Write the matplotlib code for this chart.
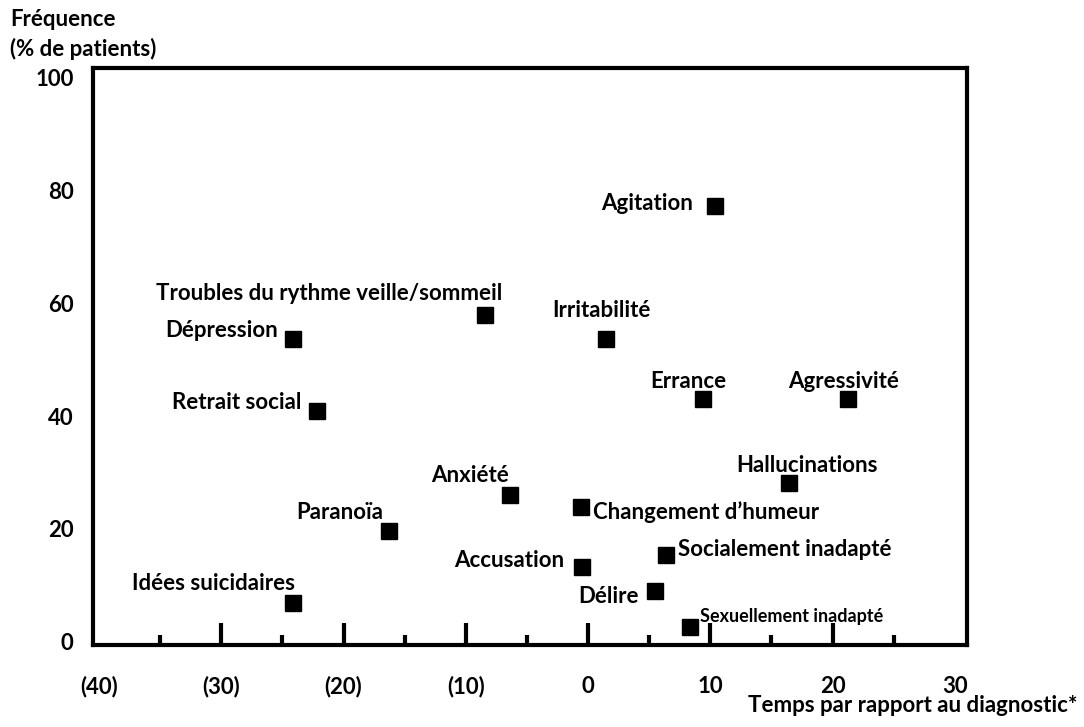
import numpy as np
import matplotlib
matplotlib.use("Agg")
import matplotlib.pyplot as plt
from matplotlib.transforms import blended_transform_factory

plt.rcParams['font.family'] = ['Lato', 'DejaVu Sans']
plt.rcParams['font.weight'] = 'bold'

# symptoms : time vs diagnosis (months) / frequency (% patients)
symptoms = ["Agitation", "Troubles du rythme veille/sommeil", "Dépression",
            "Irritabilité", "Errance", "Agressivité", "Retrait social",
            "Hallucinations", "Anxiété", "Changement d\u2019humeur", "Paranoïa",
            "Socialement inadapté", "Accusation", "Délire",
            "Idées suicidaires", "Sexuellement inadapté"]
temps = [10.4, -8.4, -24.1, 1.5, 9.4, 21.3, -22.2, 16.4, -6.4, -0.6, -16.3,
         6.4, -0.5, 5.5, -24.1, 8.3]
frequence = [77.3, 57.9, 53.7, 53.7, 43.0, 43.0, 40.9, 28.1, 26.0, 23.9, 19.6,
             15.3, 13.2, 9.0, 6.8, 2.6]

xticks = [-40, -30, -20, -10, 0, 10, 20, 30]
xticklabels = ["(40)", "(30)", "(20)", "(10)", "0", "10", "20", "30"]
yticks = [0, 20, 40, 60, 80, 100]

# label placement (offset in pixels, alignment)
lab_pos = {
    "Agitation": (-22, 2, 'right'),
    "Troubles du rythme veille/sommeil": (-156, 22, 'center'),
    "Dépression": (-15, 8, 'right'),
    "Irritabilité": (-5, 28, 'center'),
    "Errance": (-15, 18, 'center'),
    "Agressivité": (-5, 18, 'center'),
    "Retrait social": (-15, 8, 'right'),
    "Hallucinations": (18, 18, 'center'),
    "Anxiété": (-40, 19, 'center'),
    "Changement d\u2019humeur": (12, -5, 'left'),
    "Paranoïa": (-49, 19, 'center'),
    "Socialement inadapté": (12, 6, 'left'),
    "Accusation": (-18, 7, 'right'),
    "Délire": (-17, -6, 'right'),
    "Idées suicidaires": (-80, 20, 'center'),
    "Sexuellement inadapté": (10, 10, 'left'),
}

fig = plt.figure(figsize=(10.84, 7.27), dpi=100)
ax = fig.add_axes([93/1084, 1-645/727, 874/1084, 577/727])

ax.plot(temps, frequence, 's', color='black', ms=11.5, mec='black', ls='none')

for name, x, y in zip(symptoms, temps, frequence):
    dx, dy, ha = lab_pos[name]
    fs = 13 if name == "Sexuellement inadapté" else 16
    ax.annotate(name, (x, y), xytext=(dx, dy), textcoords='offset pixels',
                ha=ha, va='center', fontsize=fs, fontweight='bold')

ax.set_xlim(-40.5, 31)
ax.set_ylim(-0.6, 101.7)

for s in ax.spines.values():
    s.set_linewidth(3)

ax.set_xticks(xticks)
ax.set_xticklabels(xticklabels)
ax.set_yticks(yticks)
ax.tick_params(axis='x', length=0, pad=22, labelsize=16)
ax.tick_params(axis='y', length=0, pad=14, labelsize=16)

# inside tick marks on the time axis
trans = blended_transform_factory(ax.transData, ax.transAxes)
ax.vlines(np.arange(-30, 21, 10), 0, 0.038, transform=trans, color='black', lw=3)
ax.vlines(np.arange(-35, 26, 10), 0, 0.018, transform=trans, color='black', lw=3)

fig.text(10/1084, 1-19/727, "Fréquence", fontsize=16, fontweight='bold', va='center')
fig.text(10/1084, 1-49/727, "(% de patients)", fontsize=16, fontweight='bold', va='center')
fig.text(1078/1084, 1-706/727, "Temps par rapport au diagnostic*", fontsize=16,
         fontweight='bold', ha='right', va='center')

fig.savefig("out.png", dpi=100)
